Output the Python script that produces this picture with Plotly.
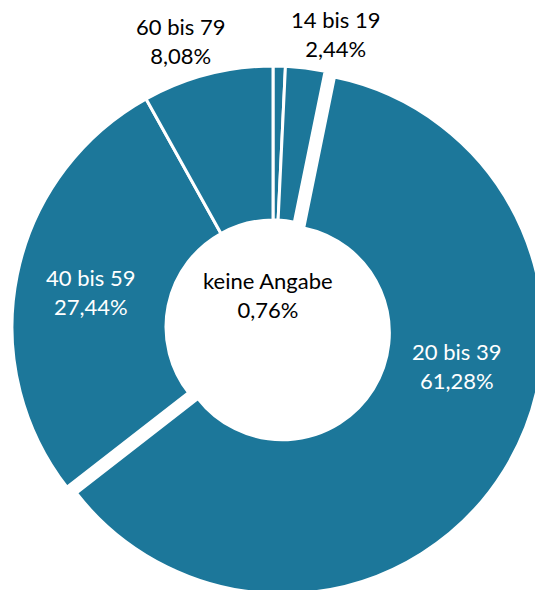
import math
import plotly.graph_objects as go

# ---- data ----
categories = ["keine Angabe", "14 bis 19", "20 bis 39", "40 bis 59", "60 bis 79"]
shares = [0.76, 2.44, 61.28, 27.44, 8.08]
pulled_category = "20 bis 39"

# ---- styling / layout (pixels) ----
W, H = 550, 600
CX, CY, R = 273, 327, 261
HOLE_PX = 107
PULL_PX = 11
BLUE = "#1c779a"
CLEAR = "rgba(0,0,0,0)"
FONT = "Lato"
FSIZE = 22

# label anchor positions (pixel centres) and colours
label_pos = {
    "keine Angabe": (268, 295, "#000000"),
    "14 bis 19": (335, 34, "#000000"),
    "20 bis 39": (456, 366, "#ffffff"),
    "40 bis 59": (90, 292, "#ffffff"),
    "60 bis 79": (180, 41, "#000000"),
}

# mid-angle of pulled slice (clockwise from 12 o'clock)
idx = categories.index(pulled_category)
start = sum(shares[:idx]) / sum(shares) * 360
end = sum(shares[: idx + 1]) / sum(shares) * 360
mid = math.radians((start + end) / 2)
dx, dy = PULL_PX * math.sin(mid), -PULL_PX * math.cos(mid)  # dy: screen-down positive


def domain(cx, cy):
    return dict(x=[(cx - R) / W, (cx + R) / W], y=[1 - (cy + R) / H, 1 - (cy - R) / H])


colors_a = [CLEAR if c == pulled_category else BLUE for c in categories]
widths_a = [0 if c == pulled_category else 3 for c in categories]
colors_b = [BLUE if c == pulled_category else CLEAR for c in categories]
widths_b = [3 if c == pulled_category else 0 for c in categories]

common = dict(
    labels=categories, values=shares, sort=False, direction="clockwise", rotation=0,
    hole=HOLE_PX / R, textinfo="none", hoverinfo="label+percent", showlegend=False,
)

fig = go.Figure()
fig.add_trace(go.Pie(domain=domain(CX, CY),
                     marker=dict(colors=colors_a, line=dict(color="white", width=widths_a)),
                     **common))
fig.add_trace(go.Pie(domain=domain(CX + dx, CY + dy),
                     marker=dict(colors=colors_b, line=dict(color="white", width=widths_b)),
                     **common))

for cat, val in zip(categories, shares):
    px, py, col = label_pos[cat]
    txt = f"{cat}<br>{val:.2f}".replace(".", ",") + "%"
    fig.add_annotation(x=px / W, y=1 - py / H, xref="paper", yref="paper",
                       text=txt, showarrow=False, xanchor="center", yanchor="middle",
                       font=dict(family=FONT, size=FSIZE, color=col))

fig.update_layout(
    width=W, height=H, margin=dict(l=0, r=0, t=0, b=0),
    paper_bgcolor="white", plot_bgcolor="white", separators=",.",
)

fig.write_html(
    "out.html",
    config={"displayModeBar": False},
    post_script="document.documentElement.style.overflow='hidden';"
                "document.body.style.overflow='hidden';document.body.style.margin='0';",
)
